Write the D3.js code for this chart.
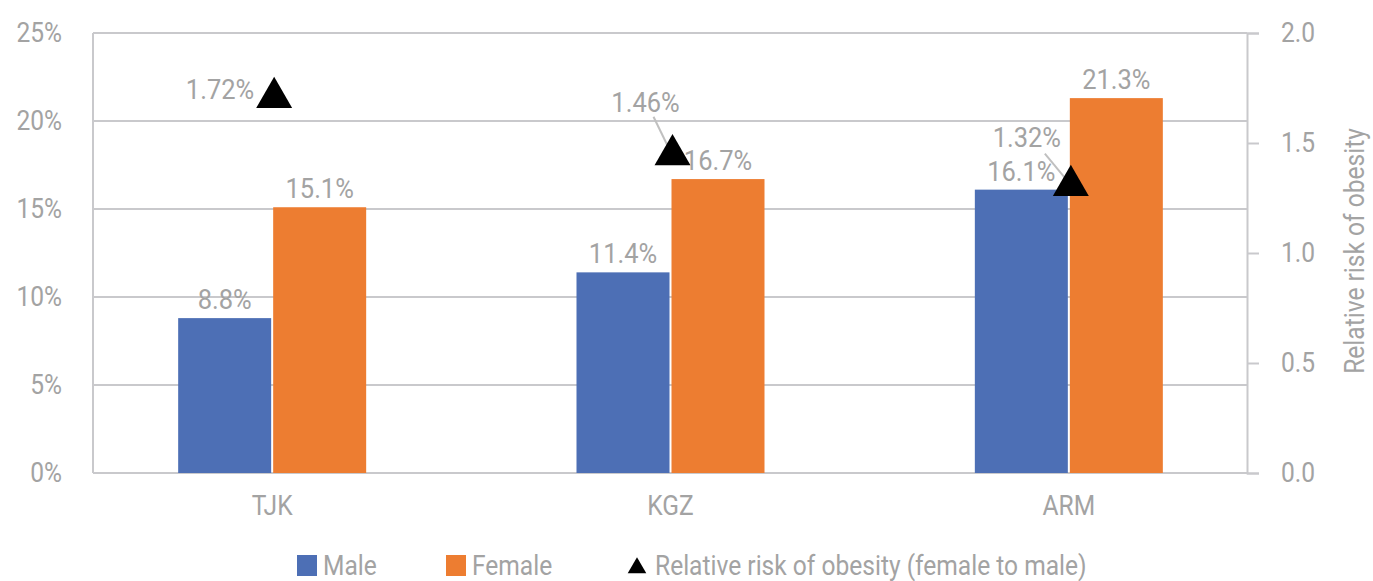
<!DOCTYPE html>
<html>
<head>
<meta charset="utf-8">
<script src="https://cdn.jsdelivr.net/npm/d3@7"></script>
<style>
  body { margin: 0; background: #fff; }
  text { font-family: "Roboto", sans-serif; fill: #a3a3a3; }
</style>
</head>
<body>
<div id="chart"></div>
<script>
var categories = ["TJK", "KGZ", "ARM"];
var maleValues = [8.8, 11.4, 16.1];
var femaleValues = [15.1, 16.7, 21.3];
var riskValues = [1.72, 1.46, 1.32];
var leftTicks = [0, 5, 10, 15, 20, 25];
var rightTicks = [0, 0.5, 1.0, 1.5, 2.0];

var svgWidth = 1373;
var svgHeight = 581;

var plot = { left: 93, right: 1247, top: 33, bottom: 473 };

// narrow look of the original font
var squeeze = 0.91;

var svg = d3.select("#chart")
  .append("svg")
  .attr("width", svgWidth)
  .attr("height", svgHeight);

// place a text at x,y and squeeze it horizontally
function place(sel, xFn, yFn) {
  return sel.attr("transform", function(d, i) {
    var x = typeof xFn === "function" ? xFn(d, i) : xFn;
    var y = typeof yFn === "function" ? yFn(d, i) : yFn;
    return `translate(${x}, ${y}) scale(${squeeze}, 1)`;
  });
}

// scales
var xBand = d3.scaleBand()
  .domain(categories)
  .range([73, 1268]);

var yLeft = d3.scaleLinear().domain([0, 25]).range([plot.bottom, plot.top]);
var yRight = d3.scaleLinear().domain([0, 2]).range([plot.bottom, plot.top]);

var barW = 93;
var gap = 2;
var center = d => xBand(d) + xBand.bandwidth() / 2;

// gridlines
svg.append("g").selectAll("line")
  .data(leftTicks)
  .enter()
  .append("line")
  .attr("x1", plot.left)
  .attr("x2", plot.right)
  .attr("y1", d => yLeft(d))
  .attr("y2", d => yLeft(d))
  .attr("stroke", "#c9c9cc")
  .attr("stroke-width", 2);

// left frame line
svg.append("line")
  .attr("x1", plot.left).attr("x2", plot.left)
  .attr("y1", plot.top).attr("y2", plot.bottom)
  .attr("stroke", "#c9c9cc").attr("stroke-width", 2);

// left axis labels
place(svg.append("g").selectAll("text")
  .data(leftTicks)
  .enter()
  .append("text")
  .attr("text-anchor", "end")
  .attr("font-size", "27px")
  .text(d => d + "%"), 62, d => yLeft(d) + 9);

// right axis (line + ticks), labels drawn separately
var rightAxis = d3.axisRight(yRight)
  .tickValues(rightTicks)
  .tickSize(12)
  .tickFormat("");

var rAxis = svg.append("g")
  .attr("transform", `translate(${plot.right}, 0)`)
  .call(rightAxis);
rAxis.select(".domain").attr("stroke", "#c9c9cc").attr("stroke-width", 2);
rAxis.selectAll(".tick line").attr("stroke", "#c9c9cc").attr("stroke-width", 2);

place(svg.append("g").selectAll("text")
  .data(rightTicks)
  .enter()
  .append("text")
  .attr("font-size", "27px")
  .text(d3.format(".1f")), 1281, d => yRight(d) + 9);

svg.append("text")
  .attr("transform", `translate(1364, 251) rotate(-90) scale(${squeeze}, 1)`)
  .attr("text-anchor", "middle")
  .attr("font-size", "27px")
  .text("Relative risk of obesity");

// bars
svg.append("g").selectAll("rect")
  .data(categories)
  .enter()
  .append("rect")
  .attr("x", d => center(d) - gap / 2 - barW)
  .attr("y", (d, i) => yLeft(maleValues[i]))
  .attr("width", barW)
  .attr("height", (d, i) => yLeft(0) - yLeft(maleValues[i]))
  .attr("fill", "#4d6fb5");

svg.append("g").selectAll("rect")
  .data(categories)
  .enter()
  .append("rect")
  .attr("x", d => center(d) + gap / 2)
  .attr("y", (d, i) => yLeft(femaleValues[i]))
  .attr("width", barW)
  .attr("height", (d, i) => yLeft(0) - yLeft(femaleValues[i]))
  .attr("fill", "#ed7d31");

// bar value labels
place(svg.append("g").selectAll("text")
  .data(categories)
  .enter()
  .append("text")
  .attr("text-anchor", "middle")
  .attr("font-size", "28px")
  .text((d, i) => maleValues[i].toFixed(1) + "%"),
  d => center(d) - gap / 2 - barW / 2, (d, i) => yLeft(maleValues[i]) - 9);

place(svg.append("g").selectAll("text")
  .data(categories)
  .enter()
  .append("text")
  .attr("text-anchor", "middle")
  .attr("font-size", "28px")
  .text((d, i) => femaleValues[i].toFixed(1) + "%"),
  d => center(d) + gap / 2 + barW / 2, (d, i) => yLeft(femaleValues[i]) - 9);

// category labels
place(svg.append("g").selectAll("text")
  .data(categories)
  .enter()
  .append("text")
  .attr("text-anchor", "middle")
  .attr("font-size", "27px")
  .text(d => d), d => center(d), 515);

// relative risk: label offsets [dx, dy, anchor] and leader start offsets
var riskOffsets = [[-18, 4, "end"], [-25, -40, "middle"], [-42, -36, "middle"]];
var leaderStart = [null, [-17, -35], [-24, -29]];

svg.append("g").selectAll("line")
  .data(categories.slice(1))
  .enter()
  .append("line")
  .attr("x1", (d, i) => center(d) + leaderStart[i + 1][0])
  .attr("y1", (d, i) => yRight(riskValues[i + 1]) + leaderStart[i + 1][1])
  .attr("x2", d => center(d))
  .attr("y2", (d, i) => yRight(riskValues[i + 1]))
  .attr("stroke", "#c0c0c0")
  .attr("stroke-width", 2);

var tri = d3.symbol().type(d3.symbolTriangle).size(560);

svg.append("g").selectAll("path")
  .data(categories)
  .enter()
  .append("path")
  .attr("d", tri)
  .attr("transform", (d, i) => `translate(${center(d) + 2}, ${yRight(riskValues[i]) + 3})`)
  .attr("fill", "#000");

place(svg.append("g").selectAll("text")
  .data(categories)
  .enter()
  .append("text")
  .attr("text-anchor", (d, i) => riskOffsets[i][2])
  .attr("font-size", "28px")
  .text((d, i) => riskValues[i].toFixed(2) + "%"),
  (d, i) => center(d) + riskOffsets[i][0], (d, i) => yRight(riskValues[i]) + riskOffsets[i][1]);

// legend
var legend = svg.append("g");
legend.append("rect").attr("x", 297).attr("y", 555).attr("width", 20).attr("height", 21).attr("fill", "#4d6fb5");
place(legend.append("text").attr("font-size", "27px").text("Male"), 323, 575);
legend.append("rect").attr("x", 446).attr("y", 555).attr("width", 20).attr("height", 21).attr("fill", "#ed7d31");
place(legend.append("text").attr("font-size", "27px").text("Female"), 472, 575);
legend.append("path")
  .attr("d", d3.symbol().type(d3.symbolTriangle).size(150))
  .attr("transform", "translate(637, 568)")
  .attr("fill", "#000");
place(legend.append("text").attr("font-size", "27px").text("Relative risk of obesity (female to male)"), 655, 575);
</script>
</body>
</html>
